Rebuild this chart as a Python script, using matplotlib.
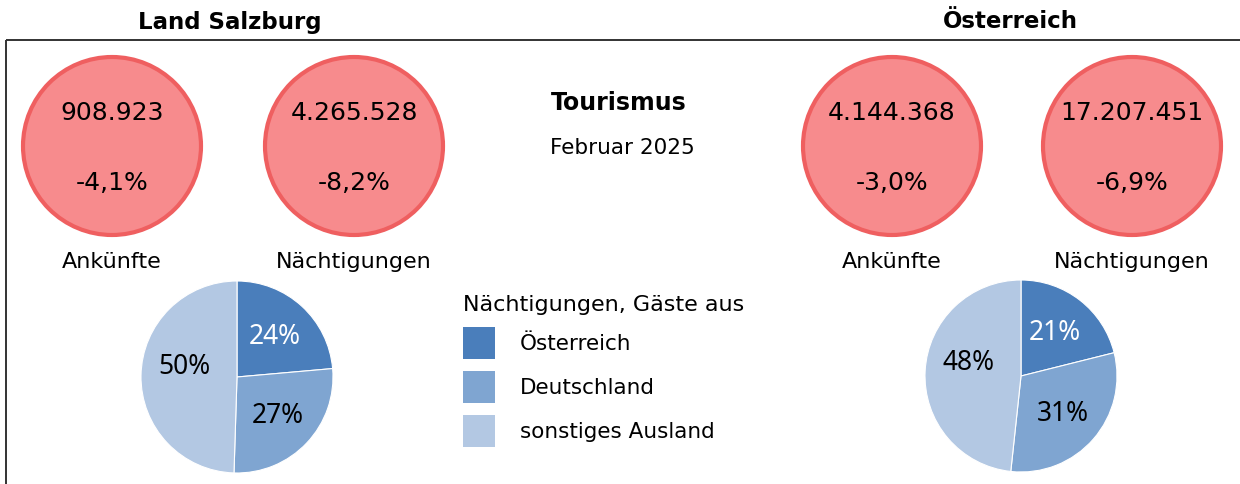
import matplotlib
matplotlib.use("Agg")
import matplotlib.pyplot as plt
from matplotlib.patches import Circle, Rectangle

# --- data ---
regions = ["Land Salzburg", "Österreich"]
ankuenfte = [908923, 4144368]
ankuenfte_change = [-4.1, -3.0]
naechtigungen = [4265528, 17207451]
naechtigungen_change = [-8.2, -6.9]
kpi_labels = ["Ankünfte", "Nächtigungen"]
origin_labels = ["Österreich", "Deutschland", "sonstiges Ausland"]
shares_salzburg = [23.6, 26.9, 49.5]
shares_oesterreich = [21.1, 30.6, 48.3]
title = "Tourismus"
subtitle = "Februar 2025"
legend_title = "Nächtigungen, Gäste aus"

pie_colors = ["#4A7EBB", "#7FA5D1", "#B3C8E3"]
circle_fill = "#F78B8D"
circle_edge = "#EF5F60"
FONT = "DejaVu Sans"


def fmt_num(v):
    return f"{v:,}".replace(",", ".")


def fmt_pct(v):
    return f"{v:.1f}%".replace(".", ",")


W, H = 1240, 485
fig = plt.figure(figsize=(W / 100, H / 100), dpi=100)
ax = fig.add_axes([0, 0, 1, 1])
ax.set_xlim(0, W)
ax.set_ylim(H, 0)
ax.axis("off")

# frame
ax.plot([6, W], [41, 41], color="#333333", lw=1.4, solid_capstyle="butt")
ax.plot([6, 6], [41, H], color="#333333", lw=1.4, solid_capstyle="butt")

# region titles
for name, x in zip(regions, [230, 1010]):
    ax.text(x, 22, name, ha="center", va="center", fontsize=16.5,
            fontweight="bold", family=FONT)

# KPI circles
circle_x = [[112, 354], [892, 1132]]
for i in range(len(regions)):
    values = [ankuenfte[i], naechtigungen[i]]
    changes = [ankuenfte_change[i], naechtigungen_change[i]]
    for j, cx in enumerate(circle_x[i]):
        ax.add_patch(Circle((cx, 147), 89, facecolor=circle_fill,
                            edgecolor=circle_edge, lw=3))
        ax.text(cx, 113, fmt_num(values[j]), ha="center", va="center",
                fontsize=18, family=FONT)
        ax.text(cx, 183, fmt_pct(changes[j]), ha="center", va="center",
                fontsize=18, family=FONT)
        ax.text(cx, 262, kpi_labels[j], ha="center", va="center",
                fontsize=16, family=FONT)

# centre titles
ax.text(619, 103, title, ha="center", va="center", fontsize=17,
        fontweight="bold", family=FONT)
ax.text(622, 148, subtitle, ha="center", va="center", fontsize=15.5,
        family=FONT)

# legend
ax.text(463, 305, legend_title, ha="left", va="center", fontsize=16,
        family=FONT)
for k, (lab, col) in enumerate(zip(origin_labels, pie_colors)):
    y0 = 328 + k * 44
    ax.add_patch(Rectangle((463, y0), 32, 32, facecolor=col, edgecolor="none"))
    ax.text(520, y0 + 16, lab, ha="left", va="center", fontsize=15.5,
            family=FONT)

# pies
pie_centers = [(237, 378), (1021, 377)]
for shares, (cx, cy) in zip([shares_salzburg, shares_oesterreich], pie_centers):
    r = 96
    pax = fig.add_axes([(cx - r) / W, 1 - (cy + r) / H, 2 * r / W, 2 * r / H])
    wedges, texts, autotexts = pax.pie(
        shares, colors=pie_colors, startangle=90, counterclock=False,
        autopct=lambda p: f"{p:.0f}%", pctdistance=0.58,
        wedgeprops=dict(edgecolor="white", linewidth=0.8),
        textprops=dict(fontsize=19, family="Noto Sans"))
    autotexts[0].set_color("white")
    # Excel lifts the big slice label a bit above the centre line
    x, y = autotexts[2].get_position()
    autotexts[2].set_position((x + 0.03, y + 0.11))
    pax.set_xlim(-1, 1)
    pax.set_ylim(-1, 1)
    pax.set_aspect("equal")

fig.savefig("out.png", dpi=100)
